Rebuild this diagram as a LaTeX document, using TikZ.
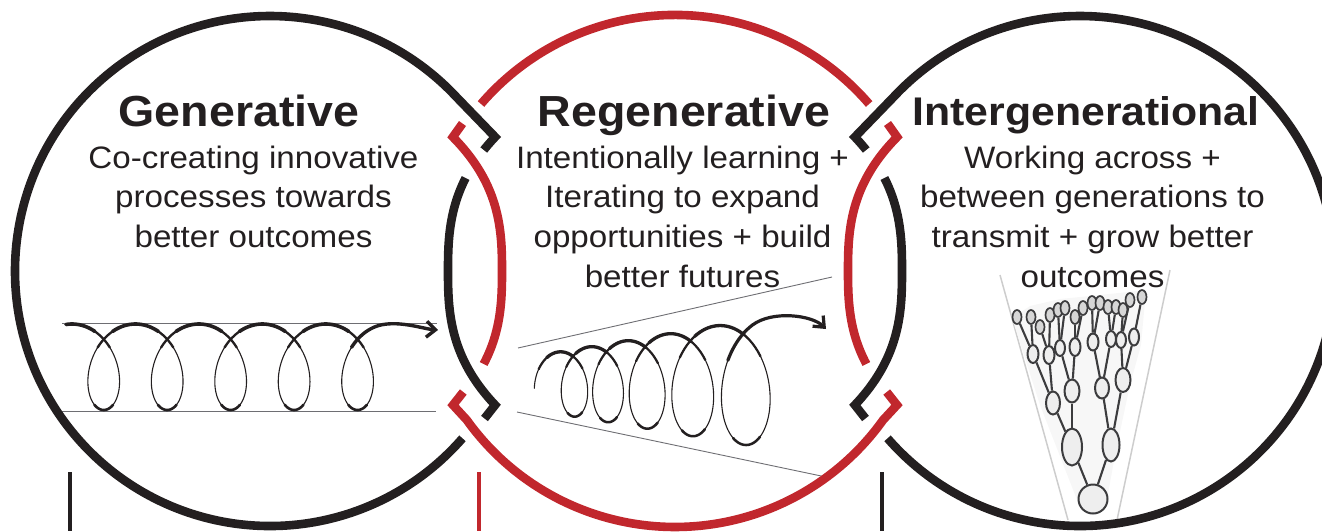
\documentclass[tikz,border=0pt]{standalone}
\usepackage{fontspec}
\setmainfont{Liberation Sans}[FakeStretch=1.07]
\usepackage{tikz}
\usetikzlibrary{arrows.meta}
\usetikzlibrary{shapes.geometric}

\definecolor{inkblack}{RGB}{35,31,32}
\definecolor{ringred}{RGB}{193,39,45}
\definecolor{guidegray}{RGB}{110,110,115}
\definecolor{fangray}{RGB}{205,205,205}
\definecolor{budline}{RGB}{60,60,62}
\definecolor{budfill}{RGB}{238,238,238}
\definecolor{treefill}{RGB}{247,247,247}

\tikzset{
  declare function={
    blx(\v)=448+47*(abs((\v-271)/134)+0.001)^2.7;
    rlx(\v)=502-49*(abs((\v-271)/134)+0.001)^2.7;
    coilx(\s)=72+10.1*\s+30*sin(\s r);
    coily(\s)=367-43*cos(\s r);
    conedist(\s)=189*exp(0.0243*\s);
    conex(\s)=371+conedist(\s)*(1+0.1*sin(\s r));
    coney(\s)=383-0.165*conedist(\s)*cos(\s r);
  },
  ring/.style={line width=8.6pt, line join=miter, miter limit=10},
  guide/.style={draw=guidegray, line width=0.9pt},
  coil/.style={draw=inkblack, line width=1.1pt, line cap=round, line join=round},
  bar/.style={line width=4pt},
  headline/.style={anchor=base, inner sep=0pt, text=inkblack, font=\bfseries\fontsize{43.5}{50}\selectfont},
  blurb/.style={anchor=base, inner sep=0pt, text=inkblack, font=\fontsize{31}{39.7}\selectfont},
  bud/.style 2 args={ellipse, draw=budline, fill=budfill, line width=2pt, inner sep=0pt, minimum width=#1, minimum height=#2},
  leaf/.style={ellipse, draw=budline, fill=budfill!90!black, line width=1.7pt, inner sep=0pt, minimum width=9pt, minimum height=14pt},
  twig/.style={draw=budline, line width=2.1pt},
}

% one crossing of two rings, drawn for the left pair and mirrored for the right
\newcommand{\braidside}{%
  \draw[ring, draw=inkblack] plot[domain=150:137, samples=8, variable=\h] ({blx(\h)},\h)
    -- (456.5,97.1) arc[start angle=-43, end angle=-319, radius=255];
  \draw[ring, draw=inkblack] plot[domain=178:405, samples=70, variable=\h] ({blx(\h)},\h) -- (484.5,418.5);
  \draw[ring, draw=ringred] (462.5,123.5) -- plot[domain=137:364, samples=70, variable=\h] ({rlx(\h)},\h);
}

\begin{document}
\begin{tikzpicture}[x=1pt,y=-1pt]
\useasboundingbox (0,0) rectangle (1322,531);
\clip (0,0) rectangle (1322,531);

% guide lines of the two coils
\draw[guide] (62,323.5) -- (437,323.5);
\draw[guide] (62,411) -- (436,411);
\draw[guide] (518,348) -- (832,277);
\draw[guide] (517,412) -- (826,477);

% flat coil
\draw[coil] plot[domain=-0.15:31.216, samples=500, variable=\t] ({coilx(\t)},{coily(\t)});
\foreach \k in {0,...,4}{
  \pgfmathsetmacro\ta{max(-0.15,2*pi*\k-1.1)}
  \pgfmathsetmacro\tb{2*pi*\k+1.1}
  \draw[coil, line width=2.3pt] plot[domain=\ta:\tb, samples=25, variable=\t] ({coilx(\t)},{coily(\t)});
  \pgfmathsetmacro\ta{max(-0.15,2*pi*\k-0.6)}
  \pgfmathsetmacro\tb{2*pi*\k+0.6}
  \draw[coil, line width=3.6pt] plot[domain=\ta:\tb, samples=20, variable=\t] ({coilx(\t)},{coily(\t)});
  \pgfmathsetmacro\ta{pi+2*pi*\k-0.5}
  \pgfmathsetmacro\tb{pi+2*pi*\k+0.5}
  \draw[coil, line width=2.6pt] plot[domain=\ta:\tb, samples=20, variable=\t] ({coilx(\t)},{coily(\t)});
}
\draw[coil, line width=3.4pt, -{Straight Barb[length=9pt,width=16pt]}]
  plot[domain=30.32:31.216, samples=15, variable=\t] ({coilx(\t)},{coily(\t)})
  .. controls (401,320.7) and (424,329) .. (438,330);

% widening coil
\draw[coil] plot[domain=-1.75:30.916, samples=500, variable=\t] ({conex(\t)},{coney(\t)});
\foreach \k in {0,...,4}{
  \pgfmathsetmacro\ta{max(-1.75,2*pi*\k-1.1)}
  \pgfmathsetmacro\tb{2*pi*\k+1.1}
  \draw[coil, line width=2.2pt] plot[domain=\ta:\tb, samples=25, variable=\t] ({conex(\t)},{coney(\t)});
  \pgfmathsetmacro\ta{max(-1.75,2*pi*\k-0.6)}
  \pgfmathsetmacro\tb{2*pi*\k+0.6}
  \draw[coil, line width=3.3pt] plot[domain=\ta:\tb, samples=20, variable=\t] ({conex(\t)},{coney(\t)});
  \pgfmathsetmacro\ta{pi+2*pi*\k-0.5}
  \pgfmathsetmacro\tb{pi+2*pi*\k+0.5}
  \draw[coil, line width=2.5pt] plot[domain=\ta:\tb, samples=20, variable=\t] ({conex(\t)},{coney(\t)});
}
\draw[coil, line width=3.2pt, -{Straight Barb[length=9pt,width=15pt]}]
  plot[domain=30.2:30.916, samples=12, variable=\t] ({conex(\t)},{coney(\t)})
  .. controls (772.5,310.1) and (812,315) .. (826,329);

% tree of generations
\draw[fangray, line width=1.5pt] (1000,275) -- (1068,520);
\draw[fangray, line width=1.5pt] (1170,270) -- (1117,520);
\fill[treefill] (1079,505) -- (1040,405) -- (1012,318) -- (1030,306) -- (1060,299)
  -- (1100,295) -- (1146,290) -- (1141,345) -- (1130,385) -- (1115,455) -- (1106,505) -- cycle;

\node[bud={29pt}{29pt}] (root) at (1093,499) {};
\node[bud={20pt}{37pt}] (sapl) at (1072,447) {};
\node[bud={17pt}{33pt}] (sapr) at (1111,445) {};
\node[bud={14pt}{23pt}] (twa) at (1053,403) {};
\node[bud={15pt}{23pt}] (twb) at (1072,391) {};
\node[bud={14pt}{21pt}] (twc) at (1102,388) {};
\node[bud={15pt}{24pt}] (twd) at (1123,380) {};
\node[bud={11pt}{18pt}] (shA) at (1033,354) {};
\node[bud={11pt}{18pt}] (shB) at (1049,355) {};
\node[bud={10pt}{16pt}] (shC) at (1060,348) {};
\node[bud={11pt}{18pt}] (shD) at (1075,347) {};
\node[bud={11pt}{17pt}] (shE) at (1093,342) {};
\node[bud={10pt}{16pt}] (shF) at (1111,339) {};
\node[bud={10pt}{16pt}] (shG) at (1121,340) {};
\node[bud={10pt}{17pt}] (shH) at (1134,337) {};
\foreach \a/\b in {root/sapl, root/sapr, sapl/twa, sapl/twb, sapr/twc, sapr/twd,
                   twa/shA, twa/shB, twb/shC, twb/shD, twc/shE, twc/shF, twd/shG, twd/shH}
  \draw[twig] (\a) -- (\b);
\foreach \n/\x/\y/\p in {lfA1/1017/317/shA, lfA2/1031/317/shA, lfB1/1040/327/shB, lfB2/1050/315/shB,
                         lfC1/1058/310/shC, lfC2/1065/308/shC, lfD1/1075/317/shD, lfD2/1083/308/shD,
                         lfE1/1092/303/shE, lfE2/1100/303/shE, lfF1/1108/307/shF, lfF2/1116/307/shF,
                         lfG1/1123/310/shG, lfG2/1130/300/shG, lfH1/1142/297/shH}{
  \node[leaf] (\n) at (\x,\y) {};
  \draw[twig] (\p) -- (\n);
}

% the three rings
\draw[ring, draw=ringred] (481,104) arc[start angle=-139.3, end angle=-40.7, radius=256];
\draw[ring, draw=ringred] (463.3,392) -- (453,405) -- (466.8,420)
  arc[start angle=144.4, end angle=35.6, radius=256] -- (897,405) -- (886.7,392);
\braidside
\begin{scope}[xshift=1350pt, xscale=-1]
  \braidside
\end{scope}

% headings and texts
\node[headline] (gentitle) at (239,126.5) {Generative};
\node[headline] (regentitle) at (684,126.5) {Regenerative};
\node[headline, font=\bfseries\fontsize{40}{46}\selectfont] (intertitle) at (1086,125.5) {Intergenerational};
\foreach \txt [count=\i from 0] in {Co-creating innovative, processes towards, better outcomes}
  \node[blurb] (gen\i) at (253.5,{168+39.7*\i}) {\txt};
\foreach \txt [count=\i from 0] in {Intentionally learning +, Iterating to expand, opportunities + build, better futures}
  \node[blurb] (regen\i) at (682.5,{168+39.7*\i}) {\txt};
\foreach \txt [count=\i from 0] in {Working across +, between generations to, transmit + grow better, outcomes}
  \node[blurb] (inter\i) at (1092.5,{168+39.7*\i}) {\txt};

% stems below
\draw[bar, inkblack] (69.5,472) -- (69.5,531);
\draw[bar, ringred] (479,472) -- (479,531);
\draw[bar, inkblack] (882,472) -- (882,531);
\end{tikzpicture}
\end{document}
